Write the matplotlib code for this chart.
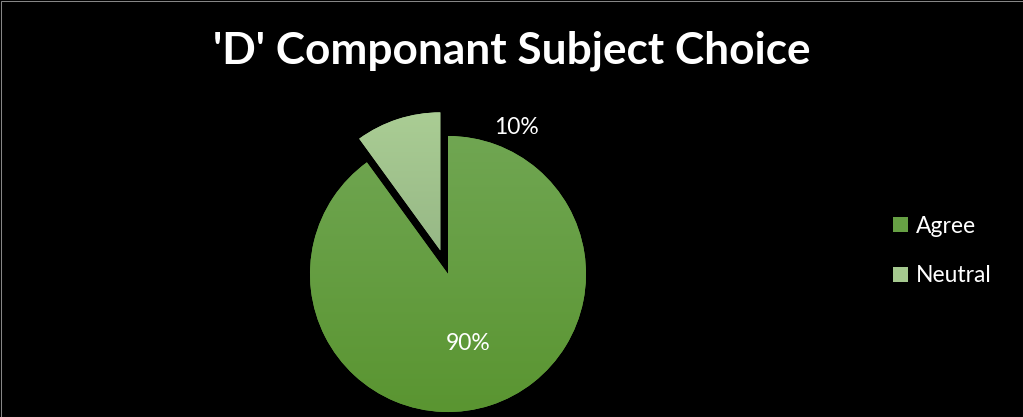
import numpy as np
import matplotlib.pyplot as plt
from matplotlib.colors import to_rgb
from matplotlib.patches import Patch

labels = ["Agree", "Neutral"]
values = [90, 10]
pct_labels = ["90%", "10%"]
colors = ["#66a044", "#a5c98f"]
grad_top = ["#70a652", "#aacd94"]
grad_bot = ["#5a9531", "#97b886"]

plt.rcParams['font.family'] = ['Lato', 'DejaVu Sans']

fig = plt.figure(figsize=(10.23, 4.17), dpi=100, facecolor="black")
ax = fig.add_axes([0, 0, 1, 1])
ax.set_facecolor("black")
ax.axis("off")

R = 138
# explode in matplotlib is in data units, so scale by radius
wedges, _ = ax.pie(values, startangle=90, counterclock=False, explode=[0, 0.18 * R],
                   center=(448, 143), radius=R, colors=colors,
                   wedgeprops=dict(linewidth=0))

# vertical gradient fill for each slice
for w, top, bot in zip(wedges, grad_top, grad_bot):
    c1 = np.array(to_rgb(top))
    c2 = np.array(to_rgb(bot))
    t = np.linspace(0, 1, 256)[:, None]
    img = (c1 * (1 - t) + c2 * t)[:, None, :]
    bb = w.get_path().get_extents(w.get_patch_transform())
    im = ax.imshow(img, extent=(bb.x0, bb.x1, bb.y0, bb.y1), origin="upper",
                   aspect="auto", zorder=w.get_zorder() + 0.1)
    im.set_clip_path(w)

ax.set_xlim(0, 1023)
ax.set_ylim(0, 417)
ax.set_aspect("equal")

ax.text(468, 417 - 343, pct_labels[0], color="white", fontsize=16.5, ha="center", va="center", zorder=5)
ax.text(516, 417 - 127, pct_labels[1], color="white", fontsize=16.5, ha="center", va="center", zorder=5)

ax.text(512, 417 - 51, "'D' Componant Subject Choice", color="white", fontsize=31.8,
        fontweight="bold", ha="center", va="center")

handles = [Patch(facecolor=c, edgecolor="none") for c in colors]
leg = ax.legend(handles, labels, loc="center left", bbox_to_anchor=(872 / 1023, 1 - 251 / 417),
                frameon=False, labelcolor="white", fontsize=16.5, handlelength=0.65,
                handleheight=0.65, handletextpad=0.35, labelspacing=1.25)

fig.patches.append(plt.Rectangle((0.5 / 1023, 0.5 / 417), 1 - 1 / 1023, 1 - 1 / 417,
                                 transform=fig.transFigure, fill=False,
                                 edgecolor="#868686", linewidth=0.75))

fig.savefig("out.png", dpi=100, facecolor="black")
